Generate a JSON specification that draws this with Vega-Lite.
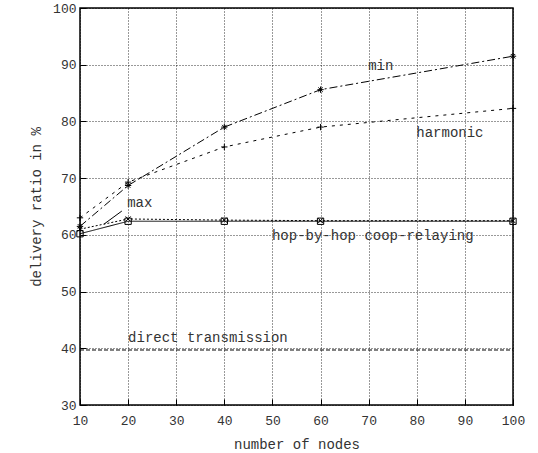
{
  "$schema": "https://vega.github.io/schema/vega-lite/v6.json",
  "width": 433,
  "height": 397,
  "autosize": "none",
  "padding": {"left": 80, "top": 8, "right": 25, "bottom": 48},
  "background": "white",
  "config": {
    "view": {"stroke": "black", "strokeWidth": 1.5},
    "font": "Liberation Mono",
    "axis": {
      "labelFont": "Liberation Mono",
      "titleFont": "Liberation Mono",
      "labelFontSize": 13,
      "titleFontSize": 14,
      "titleFontWeight": "normal",
      "labelColor": "#333",
      "titleColor": "#333",
      "labelFlush": false,
      "domain": false,
      "grid": true,
      "gridColor": "black",
      "gridDash": [1, 2],
      "gridOpacity": 0.8,
      "tickColor": "black",
      "tickSize": -6,
      "tickWidth": 1
    }
  },
  "datasets": {
    "series": [
      {"series": "hop", "x": 10, "y": 60.2},
      {"series": "hop", "x": 20, "y": 62.4},
      {"series": "hop", "x": 40, "y": 62.4},
      {"series": "hop", "x": 60, "y": 62.4},
      {"series": "hop", "x": 100, "y": 62.4},
      {"series": "max", "x": 10, "y": 61.0},
      {"series": "max", "x": 20, "y": 62.8},
      {"series": "max", "x": 40, "y": 62.6},
      {"series": "max", "x": 60, "y": 62.5},
      {"series": "max", "x": 100, "y": 62.5},
      {"series": "min", "x": 10, "y": 61.5},
      {"series": "min", "x": 20, "y": 68.7},
      {"series": "min", "x": 40, "y": 79.0},
      {"series": "min", "x": 60, "y": 85.6},
      {"series": "min", "x": 100, "y": 91.5},
      {"series": "harmonic", "x": 10, "y": 63.0},
      {"series": "harmonic", "x": 20, "y": 69.3},
      {"series": "harmonic", "x": 40, "y": 75.5},
      {"series": "harmonic", "x": 60, "y": 79.0},
      {"series": "harmonic", "x": 100, "y": 82.3},
      {"series": "direct", "x": 10, "y": 39.7},
      {"series": "direct", "x": 100, "y": 39.7}
    ],
    "labels": [
      {"text": "min", "x": 69.9, "y": 89.8},
      {"text": "harmonic", "x": 79.9, "y": 78.0},
      {"text": "max", "x": 19.8, "y": 65.6},
      {"text": "hop-by-hop coop-relaying", "x": 49.9, "y": 59.8},
      {"text": "direct transmission", "x": 20.0, "y": 41.8}
    ],
    "pointer": [
      {"x": 15.0, "y": 61.9, "x2": 18.7, "y2": 64.2}
    ]
  },
  "layer": [
    {
      "data": {"name": "series"},
      "mark": {"type": "line", "color": "black", "strokeWidth": 1},
      "encoding": {
        "x": {
          "field": "x", "type": "quantitative",
          "scale": {"domain": [10, 100], "nice": false},
          "axis": {"values": [10, 20, 30, 40, 50, 60, 70, 80, 90, 100], "title": "number of nodes", "labelPadding": 15, "titlePadding": 10}
        },
        "y": {
          "field": "y", "type": "quantitative",
          "scale": {"domain": [30, 100], "nice": false, "zero": false},
          "axis": {"values": [30, 40, 50, 60, 70, 80, 90, 100], "title": "delivery ratio in %", "labelPadding": 10, "titlePadding": 9}
        },
        "detail": {"field": "series"},
        "strokeDash": {
          "field": "series", "type": "nominal", "legend": null,
          "scale": {
            "domain": ["hop", "max", "min", "harmonic", "direct"],
            "range": [[1, 0], [2, 2], [8, 3, 2, 3], [3, 5], [4, 2]]
          }
        }
      }
    },
    {
      "data": {"name": "series"},
      "transform": [{"filter": "datum.series !== 'direct'"}],
      "mark": {"type": "point", "filled": false, "stroke": "black", "strokeWidth": 1, "opacity": 1, "size": 40},
      "encoding": {
        "x": {"field": "x", "type": "quantitative"},
        "y": {"field": "y", "type": "quantitative"},
        "shape": {
          "field": "series", "type": "nominal", "legend": null,
          "scale": {
            "domain": ["hop", "max", "min", "harmonic"],
            "range": [
              "square",
              "M-0.8,-0.8L0.8,0.8M-0.8,0.8L0.8,-0.8",
              "M-1,0L1,0M0,-1L0,1M-0.7,-0.7L0.7,0.7M-0.7,0.7L0.7,-0.7",
              "M-1,0L1,0M0,-1L0,1"
            ]
          }
        }
      }
    },
    {
      "data": {"name": "pointer"},
      "mark": {"type": "rule", "color": "black", "strokeWidth": 1},
      "encoding": {
        "x": {"field": "x", "type": "quantitative"},
        "y": {"field": "y", "type": "quantitative"},
        "x2": {"field": "x2"},
        "y2": {"field": "y2"}
      }
    },
    {
      "data": {"name": "labels"},
      "mark": {"type": "text", "align": "left", "baseline": "middle", "font": "Liberation Mono", "fontSize": 14, "color": "#333"},
      "encoding": {
        "x": {"field": "x", "type": "quantitative"},
        "y": {"field": "y", "type": "quantitative"},
        "text": {"field": "text"}
      }
    }
  ]
}
